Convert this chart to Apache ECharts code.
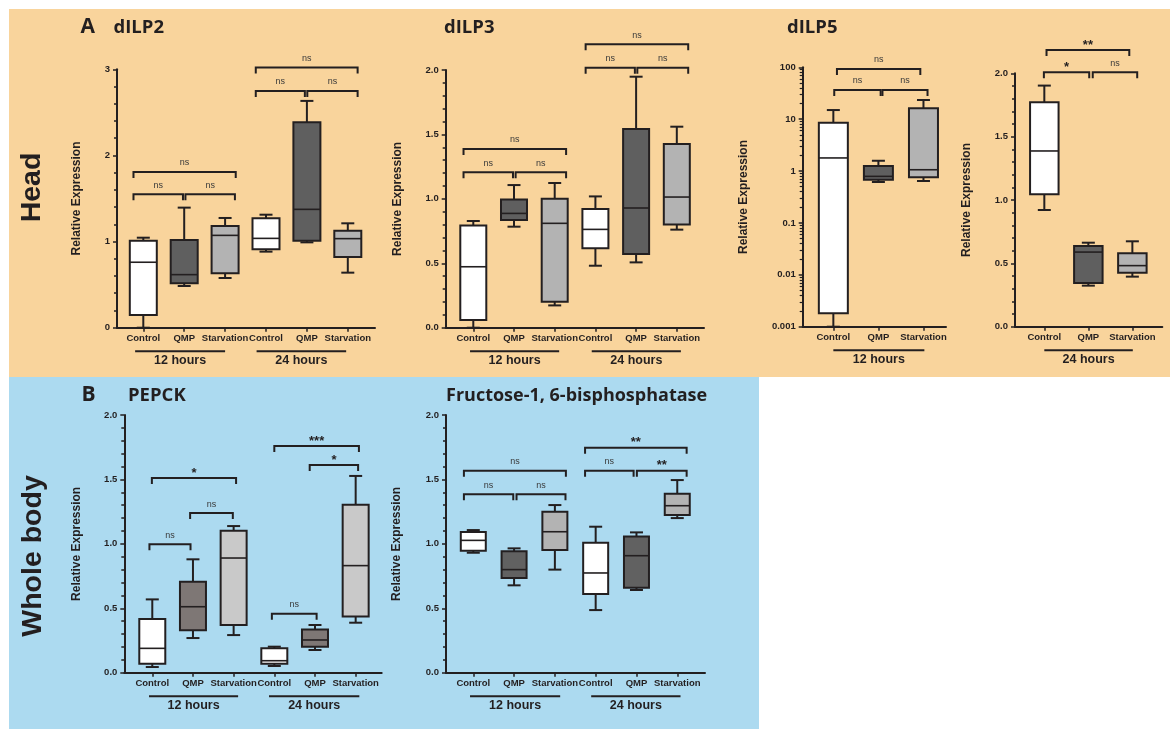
<!DOCTYPE html>
<html>
<head>
<meta charset="utf-8">
<script src="https://cdn.jsdelivr.net/npm/echarts@6/dist/echarts.min.js"></script>
<style>
  html, body { margin: 0; padding: 0; background: #ffffff; }
  #chart { width: 1170px; height: 729px; }
</style>
</head>
<body>
<div id="chart"></div>
<script>
// ---- categories ----
const categories6 = ['Control', 'QMP', 'Starvation', 'Control', 'QMP', 'Starvation'];
const categories3 = ['Control', 'QMP', 'Starvation'];

// ---- box rows: [min, Q1, median, Q3, max] ----
const dilp2Boxes = [
  [0.00, 0.147, 0.76, 1.01, 1.045],
  [0.484, 0.515, 0.616, 1.018, 1.394],
  [0.577, 0.631, 1.072, 1.181, 1.274],
  [0.883, 0.91, 1.037, 1.27, 1.312],
  [0.991, 1.01, 1.374, 2.385, 2.633],
  [0.639, 0.821, 1.034, 1.127, 1.212]
];
const dilp3Boxes = [
  [0.00, 0.06, 0.473, 0.794, 0.828],
  [0.784, 0.836, 0.887, 0.994, 1.107],
  [0.173, 0.202, 0.81, 1.001, 1.123],
  [0.481, 0.616, 0.763, 0.921, 1.019],
  [0.507, 0.572, 0.929, 1.542, 1.948],
  [0.761, 0.80, 1.014, 1.426, 1.56]
];
const dilp5Boxes12h = [
  [0.001, 0.00181, 1.79, 8.57, 15.0],
  [0.615, 0.68, 0.79, 1.25, 1.58],
  [0.643, 0.757, 1.06, 16.2, 23.4]
];
const dilp5Boxes24h = [
  [0.921, 1.045, 1.387, 1.771, 1.903],
  [0.324, 0.345, 0.589, 0.637, 0.663],
  [0.395, 0.426, 0.482, 0.579, 0.674]
];
const pepckBoxes = [
  [0.044, 0.07, 0.189, 0.417, 0.569],
  [0.269, 0.329, 0.512, 0.706, 0.88],
  [0.292, 0.37, 0.89, 1.102, 1.138],
  [0.052, 0.07, 0.093, 0.189, 0.202],
  [0.176, 0.202, 0.254, 0.336, 0.37],
  [0.388, 0.437, 0.831, 1.304, 1.527]
];
const fbpBoxes = [
  [0.931, 0.947, 1.027, 1.092, 1.107],
  [0.678, 0.735, 0.80, 0.942, 0.965],
  [0.80, 0.952, 1.094, 1.25, 1.301],
  [0.486, 0.611, 0.774, 1.009, 1.133],
  [0.642, 0.66, 0.908, 1.058, 1.089],
  [1.20, 1.224, 1.296, 1.389, 1.495]
];

// ---- significance brackets: [from, to, height, label] ----
const dilp2Brackets = [
  [-0.24, 0.97, 1.549, 'ns'], [1.03, 2.24, 1.549, 'ns'], [-0.24, 2.26, 1.808, 'ns'],
  [2.75, 3.95, 2.749, 'ns'], [4.01, 5.24, 2.749, 'ns'], [2.75, 5.24, 3.02, 'ns']
];
const dilp3Brackets = [
  [-0.24, 0.975, 1.206, 'ns'], [1.04, 2.28, 1.206, 'ns'], [-0.24, 2.28, 1.387, 'ns'],
  [2.76, 3.97, 2.018, 'ns'], [4.03, 5.28, 2.018, 'ns'], [2.76, 5.28, 2.199, 'ns']
];
const dilp5Brackets12h = [
  [0.02, 1.05, 36.6, 'ns'], [1.09, 2.09, 36.6, 'ns'], [0.08, 1.93, 93, 'ns']
];
const dilp5Brackets24h = [
  [-0.01, 1.02, 2.008, '*'], [1.1, 2.11, 2.008, 'ns'], [0.05, 1.93, 2.184, '**']
];
const pepckBrackets = [
  [-0.07, 0.94, 0.996, 'ns'], [0.93, 1.98, 1.239, 'ns'], [-0.01, 2.06, 1.511, '*'],
  [2.94, 4.04, 0.458, 'ns'], [3.87, 5.06, 1.612, '*'], [3.0, 5.08, 1.759, '***']
];
const fbpBrackets = [
  [-0.23, 0.98, 1.384, 'ns'], [1.06, 2.26, 1.384, 'ns'], [-0.23, 2.27, 1.568, 'ns'],
  [2.74, 3.93, 1.568, 'ns'], [4.01, 5.23, 1.568, '**'], [2.74, 5.23, 1.746, '**']
];

// ---- time-point group labels under the axis: [from, to, label] ----
const dilp2Groups = [[-0.2, 2.0, '12 hours'], [2.77, 4.96, '24 hours']];
const dilp3Groups = [[-0.08, 2.11, '12 hours'], [2.91, 5.1, '24 hours']];
const dilp5Groups12h = [[0, 2.02, '12 hours']];
const dilp5Groups24h = [[0, 2.01, '24 hours']];
const pepckGroups = [[-0.08, 2.11, '12 hours'], [2.87, 5.09, '24 hours']];
const fbpGroups = [[-0.08, 2.13, '12 hours'], [2.89, 5.08, '24 hours']];

// ---- styling ----
const INK = '#231f20';
const SANS = '"Liberation Sans", Arial, Helvetica, sans-serif';
const TITLE = '"Open Sans", "Liberation Sans", sans-serif';
const headFills = ['#ffffff', '#5f5f5f', '#b3b3b3'];
const pepckFills = ['#ffffff', '#7e7775', '#c9c9c9'];
const fbpFills = ['#ffffff', '#616161', '#b3b3b3'];

const oneDecimal = v => v.toFixed(1);
const logLabel = v => {
  const e = Math.round(Math.log10(v));
  return e >= 0 ? String(Math.pow(10, e)) : Math.pow(10, e).toFixed(-e);
};

const panels = [
  { cats: categories6, boxes: dilp2Boxes, brackets: dilp2Brackets, groups: dilp2Groups, fills: headFills,
    grid: { left: 117, top: 69.3, width: 258, height: 258.4 }, xRange: [-0.643, 5.665],
    y: { type: 'value', min: 0, max: 3, interval: 1 }, fmt: v => String(v), nameGap: 34, boxW: 27 },
  { cats: categories6, boxes: dilp3Boxes, brackets: dilp3Brackets, groups: dilp3Groups, fills: headFills,
    grid: { left: 445.7, top: 70, width: 258.3, height: 257.7 }, xRange: [-0.678, 5.668],
    y: { type: 'value', min: 0, max: 2, interval: 0.5 }, fmt: oneDecimal, nameGap: 42, boxW: 26 },
  { cats: categories3, boxes: dilp5Boxes12h, brackets: dilp5Brackets12h, groups: dilp5Groups12h, fills: headFills,
    grid: { left: 802.7, top: 67.3, width: 143.3, height: 259.4 }, xRange: [-0.68, 2.5],
    y: { type: 'log', min: 0.001, max: 100, logBase: 10 }, fmt: logLabel, nameGap: 53, boxW: 29, log: true },
  { cats: categories3, boxes: dilp5Boxes24h, brackets: dilp5Brackets24h, groups: dilp5Groups24h, fills: headFills,
    grid: { left: 1015, top: 73.3, width: 147.3, height: 253.4 }, xRange: [-0.666, 2.68],
    y: { type: 'value', min: 0, max: 2, interval: 0.5 }, fmt: oneDecimal, nameGap: 42, boxW: 28.5 },
  { cats: categories6, boxes: pepckBoxes, brackets: pepckBrackets, groups: pepckGroups, fills: pepckFills,
    grid: { left: 124.3, top: 415, width: 257.4, height: 257.7 }, xRange: [-0.688, 5.64],
    y: { type: 'value', min: 0, max: 2, interval: 0.5 }, fmt: oneDecimal, nameGap: 42, boxW: 26 },
  { cats: categories6, boxes: fbpBoxes, brackets: fbpBrackets, groups: fbpGroups, fills: fbpFills,
    grid: { left: 446, top: 415, width: 259, height: 257.7 }, xRange: [-0.669, 5.68],
    y: { type: 'value', min: 0, max: 2, interval: 0.5 }, fmt: oneDecimal, nameGap: 43, boxW: 25 }
];

const grids = [], xAxes = [], yAxes = [], series = [];

panels.forEach((p, pi) => {
  grids.push(Object.assign({ containLabel: false, outerBoundsMode: 'none' }, p.grid));
  const idx = p.cats.map((c, i) => i);
  xAxes.push({
    type: 'value', gridIndex: pi, min: p.xRange[0], max: p.xRange[1],
    splitLine: { show: false },
    axisLine: { show: true, onZero: false, lineStyle: { color: INK, width: 2 } },
    axisTick: { show: true, customValues: idx, length: 4, lineStyle: { color: INK, width: 1.5 } },
    axisLabel: {
      show: true, customValues: idx, margin: 6,
      formatter: v => p.cats[Math.round(v)],
      color: INK, fontFamily: SANS, fontWeight: 'bold', fontSize: 9.5
    }
  });
  const yIndex = yAxes.length;
  yAxes.push(Object.assign({
    gridIndex: pi, position: 'left',
    name: 'Relative Expression', nameLocation: 'middle', nameGap: p.nameGap,
    nameTextStyle: { color: INK, fontFamily: SANS, fontWeight: 'bold', fontSize: 12 },
    splitLine: { show: false },
    axisLine: { show: true, onZero: false, lineStyle: { color: INK, width: 2 } },
    axisTick: { show: true, length: 4, lineStyle: { color: INK, width: 1.5 } },
    minorTick: { show: !p.log, splitNumber: 5, length: 3, lineStyle: { color: INK, width: 1.5 } },
    axisLabel: { formatter: p.fmt, margin: 7, color: INK, fontFamily: SANS, fontWeight: 'bold', fontSize: 9.5 }
  }, p.y));
  if (p.log) {
    // intermediate ticks (2..9) of each decade
    const minor = [];
    for (let e = -3; e < 2; e++) for (let m = 2; m <= 9; m++) minor.push(+(m * Math.pow(10, e)).toPrecision(3));
    yAxes.push({
      type: 'log', logBase: 10, min: 0.001, max: 100, gridIndex: pi, position: 'left',
      splitLine: { show: false }, axisLine: { show: false, onZero: false }, axisLabel: { show: false },
      axisTick: { show: true, customValues: minor, length: 3, lineStyle: { color: INK, width: 1.2 } }
    });
  }

  const yMin = p.y.min;

  // boxes and whiskers
  series.push({
    type: 'custom', xAxisIndex: pi, yAxisIndex: yIndex, clip: false, z: 3,
    data: p.boxes.map((b, i) => [i].concat(b)),
    encode: { x: 0, y: [1, 2, 3, 4, 5] },
    renderItem(params, api) {
      const i = api.value(0);
      const x = api.coord([i, api.value(1)])[0];
      const yLo = api.coord([i, api.value(1)])[1];
      const yQ1 = api.coord([i, api.value(2)])[1];
      const yMd = api.coord([i, api.value(3)])[1];
      const yQ3 = api.coord([i, api.value(4)])[1];
      const yHi = api.coord([i, api.value(5)])[1];
      const hw = p.boxW / 2, cw = 6.5;
      const st = { stroke: INK, lineWidth: 2, fill: null };
      return {
        type: 'group',
        children: [
          { type: 'line', shape: { x1: x, y1: yHi, x2: x, y2: yQ3 }, style: st },
          { type: 'line', shape: { x1: x - cw, y1: yHi, x2: x + cw, y2: yHi }, style: st },
          { type: 'line', shape: { x1: x, y1: yLo, x2: x, y2: yQ1 }, style: st },
          { type: 'line', shape: { x1: x - cw, y1: yLo, x2: x + cw, y2: yLo }, style: st },
          { type: 'rect', shape: { x: x - hw, y: yQ3, width: 2 * hw, height: yQ1 - yQ3 },
            style: { fill: p.fills[i % 3], stroke: INK, lineWidth: 2 } },
          { type: 'line', shape: { x1: x - hw, y1: yMd, x2: x + hw, y2: yMd }, style: { stroke: INK, lineWidth: 1.6 } }
        ]
      };
    }
  });

  // significance brackets
  series.push({
    type: 'custom', xAxisIndex: pi, yAxisIndex: yIndex, clip: false, z: 4,
    data: p.brackets.map(b => [b[0], b[1], b[2]]),
    encode: { x: [0, 1], y: 2 },
    renderItem(params, api) {
      const a = api.coord([api.value(0), api.value(2)]);
      const b = api.coord([api.value(1), api.value(2)]);
      const label = p.brackets[params.dataIndex][3];
      const star = label !== 'ns';
      return {
        type: 'group',
        children: [
          { type: 'polyline',
            shape: { points: [[a[0], a[1] + 6], [a[0], a[1]], [b[0], b[1]], [b[0], b[1] + 6]] },
            style: { stroke: INK, lineWidth: 2, fill: null } },
          { type: 'text', x: (a[0] + b[0]) / 2, y: star ? a[1] - 5 : a[1] - 9,
            style: {
              text: label, align: 'center', verticalAlign: 'middle',
              fill: star ? INK : '#3a3a3a', fontFamily: SANS,
              fontWeight: star ? 'bold' : 'normal', fontSize: star ? 13 : 9
            } }
        ]
      };
    }
  });

  // time-point labels with underline
  series.push({
    type: 'custom', xAxisIndex: pi, yAxisIndex: yIndex, clip: false, z: 4,
    data: p.groups.map(g => [g[0], g[1]]),
    encode: { x: [0, 1] },
    renderItem(params, api) {
      const cs = params.coordSys;
      const bottom = cs.y + cs.height;
      const x1 = api.coord([api.value(0), yMin])[0];
      const x2 = api.coord([api.value(1), yMin])[0];
      return {
        type: 'group',
        children: [
          { type: 'line', shape: { x1: x1, y1: bottom + 23.5, x2: x2, y2: bottom + 23.5 },
            style: { stroke: INK, lineWidth: 2 } },
          { type: 'text', x: (x1 + x2) / 2, y: bottom + 32.5,
            style: { text: p.groups[params.dataIndex][2], align: 'center', verticalAlign: 'middle',
                     fill: INK, fontFamily: SANS, fontWeight: 'bold', fontSize: 12.5 } }
        ]
      };
    }
  });
});

const titleText = (txt, x, y, size) => ({
  type: 'text', x: x, y: y, z: 10,
  style: { text: txt, fill: INK, fontFamily: TITLE, fontWeight: 'bold', fontSize: size,
           align: 'left', verticalAlign: 'middle' }
});
const sideText = (txt, x, y) => ({
  type: 'text', x: x, y: y, rotation: Math.PI / 2, z: 10,
  style: { text: txt, fill: INK, fontFamily: SANS, fontWeight: 'bold', fontSize: 28.5,
           align: 'center', verticalAlign: 'middle' }
});

const graphic = [
  { type: 'rect', z: -10, shape: { x: 9, y: 9, width: 1161, height: 368 }, style: { fill: '#f9d49c' } },
  { type: 'rect', z: -10, shape: { x: 9, y: 377, width: 750, height: 352 }, style: { fill: '#acdaf0' } },
  titleText('A', 80.5, 27.5, 21),
  titleText('dILP2', 113.5, 28, 18.5),
  titleText('dILP3', 444, 28, 18.5),
  titleText('dILP5', 787, 28, 18.5),
  titleText('B', 81.5, 395.5, 21),
  titleText('PEPCK', 128, 396, 18.5),
  titleText('Fructose-1, 6-bisphosphatase', 446, 396, 18),
  sideText('Head', 32, 187.5),
  sideText('Whole body', 33, 556)
];

const chart = echarts.init(document.getElementById('chart'), null, { renderer: 'canvas' });
chart.setOption({
  animation: false,
  backgroundColor: '#ffffff',
  grid: grids,
  xAxis: xAxes,
  yAxis: yAxes,
  series: series,
  graphic: graphic
});
</script>
</body>
</html>
